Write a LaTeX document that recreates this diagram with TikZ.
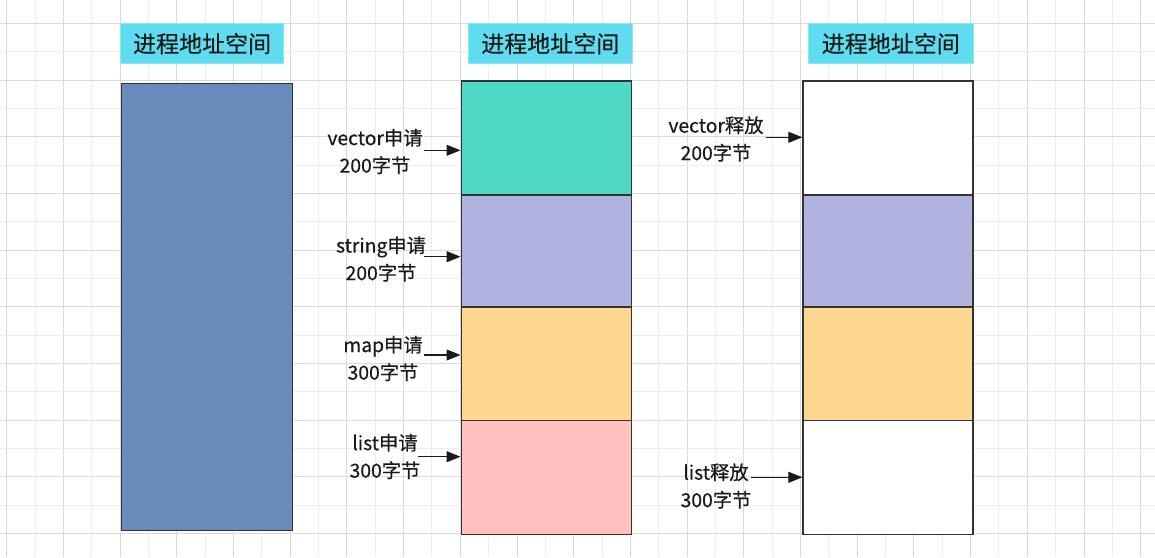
\documentclass[tikz,border=0pt]{standalone}
\usepackage{fontspec}
\setmainfont{Noto Sans CJK SC}[FakeBold=0.4]
\usetikzlibrary{arrows.meta}
\definecolor{gridD}{HTML}{DADADA}
\definecolor{gridL}{HTML}{ECECEC}
\definecolor{titlefill}{HTML}{5FDCEF}
\definecolor{bluebox}{HTML}{678CBB}
\definecolor{tealbox}{HTML}{4ED8C6}
\definecolor{lavbox}{HTML}{B0B3DF}
\definecolor{yelbox}{HTML}{FFD791}
\definecolor{pinkbox}{HTML}{FFC0BF}
\definecolor{edge}{HTML}{333333}
\definecolor{txt}{HTML}{1A1A1A}
\tikzset{
  titlebox/.style={fill=titlefill,draw=titlefill!70!white,line width=0.6pt,anchor=north west,inner sep=0pt,
    minimum height=40pt,text=txt,font=\fontsize{23}{27}\selectfont},
  membox/.style={draw=edge,line width=1.3pt,anchor=north west,inner sep=0pt,minimum width=170pt},
  lbl/.style={align=center,inner sep=0pt,text=txt,font=\fontsize{19.3}{27.5}\selectfont},
  arr/.style={draw=txt,line width=1.1pt,-{Triangle[length=14pt,width=11pt]}}
}
\begin{document}
\begin{tikzpicture}[x=1pt,y=-1pt]
\useasboundingbox (0,0) rectangle (1155,557);
\fill[white] (0,0) rectangle (1155,557);
% grid
\foreach \k in {0,...,40}{
  \pgfmathsetmacro{\xx}{6.7+28.35*\k}
  \ifodd\k \draw[gridL,line width=1pt] (\xx,0) -- (\xx,557);
  \else \draw[gridD,line width=1pt] (\xx,0) -- (\xx,557); \fi
}
\foreach \k in {0,...,18}{
  \pgfmathsetmacro{\yy}{23.3+28.35*\k}
  \ifodd\k \draw[gridL,line width=1pt] (0,\yy) -- (1155,\yy);
  \else \draw[gridD,line width=1pt] (0,\yy) -- (1155,\yy); \fi
}
% titles
\node[titlebox,minimum width=163pt] (t1) at (120.3,23.3) {进程地址空间};
\node[titlebox,minimum width=163.4pt] (t2) at (468.3,23.3) {进程地址空间};
\node[titlebox,minimum width=164.4pt] (t3) at (808.3,23.3) {进程地址空间};
% left column
\node[membox,fill=bluebox,minimum width=171pt,minimum height=447pt] (L) at (120.5,83) {};
% middle column
\node[membox,fill=tealbox,minimum height=114pt] (m1) at (460.5,80.3) {};
\node[membox,fill=lavbox,minimum height=112pt] (m2) at (460.5,194.3) {};
\node[membox,fill=yelbox,minimum height=113.7pt] (m3) at (460.5,306.3) {};
\node[membox,fill=pinkbox,minimum height=114pt] (m4) at (460.5,420) {};
% right column
\node[membox,fill=white,minimum height=114pt] (r1) at (802.3,80.3) {};
\node[membox,fill=lavbox,minimum height=112pt] (r2) at (802.3,194.3) {};
\node[membox,fill=yelbox,minimum height=113.7pt] (r3) at (802.3,306.3) {};
\node[membox,fill=white,minimum height=114pt] (r4) at (802.3,420) {};
% labels
\node[lbl] (l1) at (375,151.5) {vector申请\\200字节};
\node[lbl] (l2) at (381,259) {string申请\\200字节};
\node[lbl] (l3) at (383,358.5) {map申请\\300字节};
\node[lbl] (l4) at (385,456.5) {list申请\\300字节};
\node[lbl] (l5) at (716,139) {vector释放\\200字节};
\node[lbl] (l6) at (716,486) {list释放\\300字节};
% arrow starts
\coordinate (a1) at (424,150.3);
\coordinate (a2) at (424,256.7);
\coordinate (a3) at (424,355);
\coordinate (a4) at (418,456.7);
\coordinate (b1) at (765.7,137.3);
\coordinate (b2) at (751,477.3);
\draw[arr] (a1) -- (a1 -| m1.west);
\draw[arr] (a2) -- (a2 -| m2.west);
\draw[arr] (a3) -- (a3 -| m3.west);
\draw[arr] (a4) -- (a4 -| m4.west);
\draw[arr] (b1) -- (b1 -| r1.west);
\draw[arr] (b2) -- (b2 -| r4.west);
\end{tikzpicture}
\end{document}
